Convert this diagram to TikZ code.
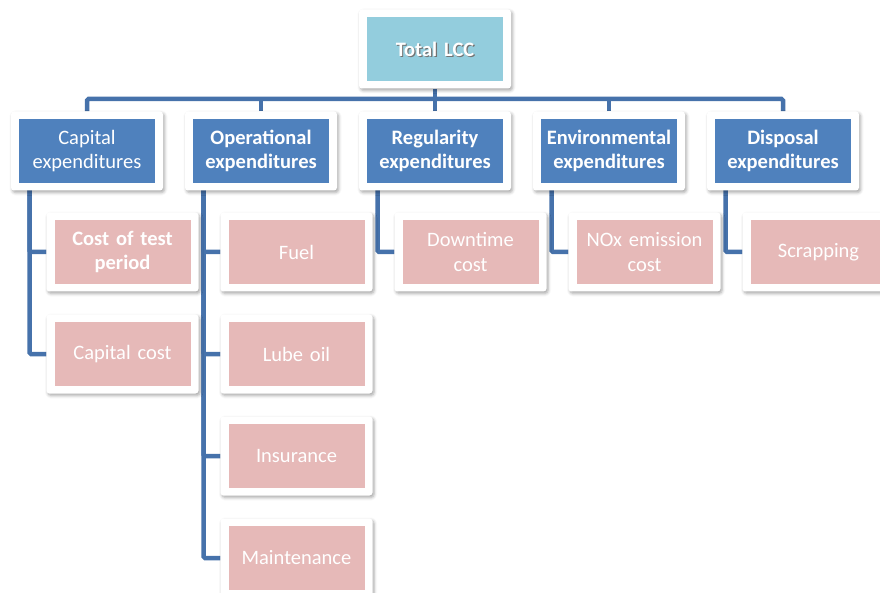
\documentclass[tikz,border=0pt]{standalone}
\usepackage{fontspec}
\setmainfont{Carlito}
\usetikzlibrary{shadows,shadows.blur,backgrounds}
\definecolor{linec}{HTML}{4672AB}
\definecolor{bluef}{HTML}{4F81BD}
\definecolor{lbluef}{HTML}{93CDDD}
\definecolor{pinkf}{HTML}{E6B9B8}
\tikzset{
  frame/.style={fill=white, rounded corners=3pt, minimum width=152pt, minimum height=79pt, inner sep=0pt,
    blur shadow={shadow xshift=1.5pt, shadow yshift=-2pt, shadow blur radius=3pt, shadow opacity=35}},
  inbox/.style={minimum width=136pt, minimum height=64pt, inner sep=0pt, text=white, align=center,
    text width=134pt, font=\fontsize{20.5}{24.5}\selectfont},
  bluebox/.style={inbox, fill=bluef},
  pinkbox/.style={inbox, fill=pinkf},
  lbluebox/.style={inbox, fill=lbluef},
  conn/.style={draw=linec, line width=4.5pt, rounded corners=1.5pt},
}
\newcommand{\mkbox}[4]{%
  \node[frame] (#1F) at (#2) {};
  \node[#3] (#1) at (#2) {#4};
}
\begin{document}
\begin{tikzpicture}[x=1pt,y=-1pt]
\useasboundingbox (0,0) rectangle (880,593);
\clip (0,0) rectangle (880,593);
% top
\node[frame] (totF) at (435,49) {};
\node[lbluebox] (totbg) at (435,49) {};
\node[inbox, text=black!55] (totsh) at (436.2,50.4) {\textbf{Total LCC}};
\node[inbox] (tot) at (435,49) {\textbf{Total LCC}};
% level 1
\mkbox{cap}{87,151}{bluebox}{Capital\\expenditures}
\mkbox{op}{261,151}{bluebox}{\textbf{Operational}\\\textbf{expenditures}}
\mkbox{reg}{435,151}{bluebox}{\textbf{Regularity}\\\textbf{expenditures}}
\mkbox{env}{609,151}{bluebox}{\textbf{Environmental}\\\textbf{expenditures}}
\mkbox{dis}{783,151}{bluebox}{\textbf{Disposal}\\\textbf{expenditures}}
% level 2
\mkbox{ca}{122.5,252}{pinkbox}{\textbf{Cost of test}\\\textbf{period}}
\mkbox{cb}{122.5,354}{pinkbox}{Capital cost}
\mkbox{oa}{296.5,252}{pinkbox}{Fuel}
\mkbox{ob}{296.5,354}{pinkbox}{Lube oil}
\mkbox{oc}{296.5,456}{pinkbox}{Insurance}
\mkbox{od}{296.5,558}{pinkbox}{Maintenance}
\mkbox{ra}{470.5,252}{pinkbox}{Downtime\\cost}
\mkbox{ea}{644.5,252}{pinkbox}{NOx emission\\cost}
\mkbox{da}{818.5,252}{pinkbox}{Scrapping}
% connectors
\begin{scope}[on background layer]
\coordinate (bus) at (435,99);
\draw[conn] (capF.north) |- (bus) -| (disF.north);
\draw[conn] (totF.south) -- (bus);
\draw[conn] (opF.north) -- (opF.north |- bus);
\draw[conn] (regF.north) -- (regF.north |- bus);
\draw[conn] (envF.north) -- (envF.north |- bus);
\draw[conn] ([xshift=-57.5pt]cap.center) |- (caF.west);
\draw[conn] ([xshift=-57.5pt]cap.center) |- (cbF.west);
\draw[conn] ([xshift=-57.5pt]op.center) |- (oaF.west);
\draw[conn] ([xshift=-57.5pt]op.center) |- (obF.west);
\draw[conn] ([xshift=-57.5pt]op.center) |- (ocF.west);
\draw[conn] ([xshift=-57.5pt]op.center) |- (odF.west);
\draw[conn] ([xshift=-57.5pt]reg.center) |- (raF.west);
\draw[conn] ([xshift=-57.5pt]env.center) |- (eaF.west);
\draw[conn] ([xshift=-57.5pt]dis.center) |- (daF.west);
\end{scope}
\end{tikzpicture}
\end{document}
